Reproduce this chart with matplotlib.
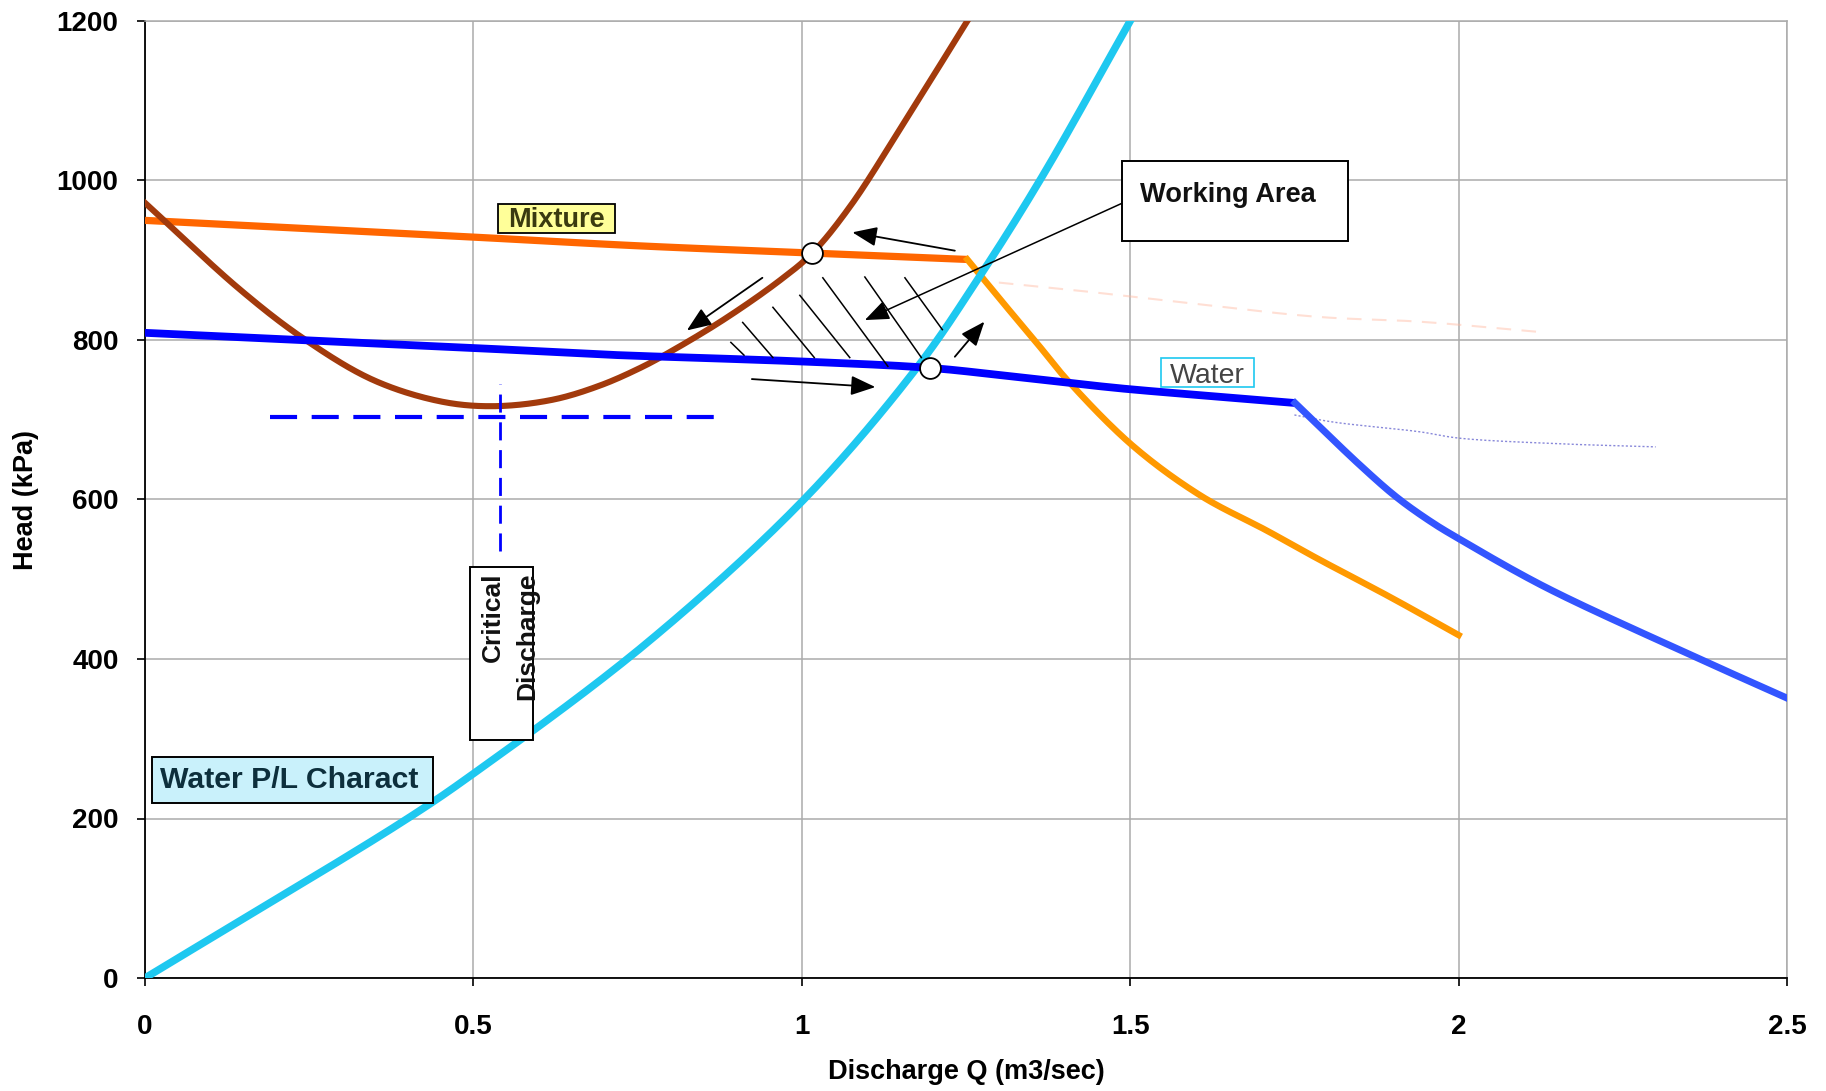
import matplotlib
matplotlib.use("Agg")
import matplotlib.pyplot as plt
from matplotlib.patches import Rectangle
import numpy as np

plt.rcParams['font.family'] = ['Liberation Sans', 'DejaVu Sans']

# ---- data: discharge Q (m3/sec) vs head (kPa) ----
# water pipeline characteristic
q_pipe_water = [0.0, 0.396, 0.503, 0.761, 1.002, 1.175, 1.267, 1.366, 1.5]
h_pipe_water = [0, 198, 258, 418, 599, 765, 875, 1005, 1200]

# mixture pipeline characteristic
q_pipe_mix = [0.0, 0.145, 0.241, 0.347, 0.45, 0.53, 0.62, 0.693, 0.754, 0.795,
              0.88, 0.967, 1.016, 1.074, 1.15, 1.252]
h_pipe_mix = [972, 863, 802, 750, 723, 717, 725, 743, 765, 783,
              825, 875, 909, 968, 1065, 1200]

# pump curve on mixture (knee at 1.252)
q_pump_mix = [0.0, 0.5, 0.754, 1.016, 1.252, 1.302, 1.357, 1.404, 1.503, 1.607,
              1.708, 1.785, 1.895, 2.0]
h_pump_mix = [950, 929, 918, 909, 901, 851, 797, 750, 668, 605,
              561, 526, 478, 430]
knee_mix = 1.252

# pump curve on water (knee at 1.751)
q_pump_water = [0.0, 0.5, 0.693, 0.754, 1.002, 1.195, 1.302, 1.454, 1.503, 1.751,
                1.85, 1.907, 1.96, 2.0, 2.13, 2.343, 2.5]
h_pump_water = [809, 790, 782, 780, 773, 765, 756, 742, 738, 721,
                643, 602, 571, 551, 491, 409, 351]
knee_water = 1.751

# faint continuation traces
q_trace_mix = [1.30, 1.42, 1.55, 1.786, 1.94, 2.124]
h_trace_mix = [872, 862, 850, 829, 823, 810]
q_trace_water = [1.75, 1.81, 1.94, 2.0, 2.15, 2.30]
h_trace_water = [706, 697, 685, 677, 670, 666]

# operating points
q_oper = [1.016, 1.195]
h_oper = [909, 765]

# critical discharge guide lines
crit_q = 0.54
crit_h = 703
crit_h_span = (535, 745)
crit_q_span = (0.19, 0.882)

# hatching of the working area (start, end) pairs
hatch_lines = [
    ((0.892, 797), (0.912, 781)),
    ((0.910, 822), (0.956, 778)),
    ((0.956, 841), (1.019, 778)),
    ((0.997, 856), (1.073, 778)),
    ((1.032, 878), (1.131, 767)),
    ((1.096, 879), (1.182, 778)),
    ((1.157, 878), (1.214, 813)),
]

# direction arrows (tail, head)
flow_arrows = [
    ((1.233, 912), (1.077, 935)),
    ((0.940, 878), (0.825, 812)),
    ((0.924, 751), (1.112, 741)),
    ((1.233, 779), (1.278, 823)),
]

x_ticks = [0, 0.5, 1, 1.5, 2, 2.5]
x_tick_labels = ['0', '0.5', '1', '1.5', '2', '2.5']
y_ticks = [0, 200, 400, 600, 800, 1000, 1200]

# ---- figure ----
W, H = 1826, 1091
fig = plt.figure(figsize=(W / 100, H / 100), dpi=100)
ax = fig.add_axes([145 / W, 1 - 978 / H, (1787 - 145) / W, (978 - 21) / H])
ax.set_xlim(0, 2.5)
ax.set_ylim(0, 1200)

# pixel-per-unit factors, used so the smoothing works in screen proportions
SX = (1787 - 145) / 2.5
SY = (978 - 21) / 1200.0


def smooth_line(x, y, n=30):
    """Centripetal Catmull-Rom curve through the given points (smoothed line)."""
    P = np.column_stack([np.asarray(x, float) * SX, np.asarray(y, float) * SY])
    if len(P) < 3:
        return np.asarray(x, float), np.asarray(y, float)
    P = np.vstack([2 * P[0] - P[1], P, 2 * P[-1] - P[-2]])
    out = []
    for i in range(1, len(P) - 2):
        p0, p1, p2, p3 = P[i - 1], P[i], P[i + 1], P[i + 2]
        t0 = 0.0
        t1 = t0 + np.linalg.norm(p1 - p0) ** 0.5
        t2 = t1 + np.linalg.norm(p2 - p1) ** 0.5
        t3 = t2 + np.linalg.norm(p3 - p2) ** 0.5
        t = np.linspace(t1, t2, n)[:, None]
        A1 = (t1 - t) / (t1 - t0) * p0 + (t - t0) / (t1 - t0) * p1
        A2 = (t2 - t) / (t2 - t1) * p1 + (t - t1) / (t2 - t1) * p2
        A3 = (t3 - t) / (t3 - t2) * p2 + (t - t2) / (t3 - t2) * p3
        B1 = (t2 - t) / (t2 - t0) * A1 + (t - t0) / (t2 - t0) * A2
        B2 = (t3 - t) / (t3 - t1) * A2 + (t - t1) / (t3 - t1) * A3
        C = (t2 - t) / (t2 - t1) * B1 + (t - t1) / (t2 - t1) * B2
        out.append(C if i == 1 else C[1:])
    C = np.vstack(out)
    return C[:, 0] / SX, C[:, 1] / SY


ax.set_xticks(x_ticks)
ax.set_xticklabels(x_tick_labels)
ax.set_yticks(y_ticks)
ax.grid(True, color='#ababab', linewidth=1.1, zorder=0)
ax.set_axisbelow(True)
for side in ('top', 'right'):
    ax.spines[side].set_color('#ababab')
    ax.spines[side].set_linewidth(1.1)
for side in ('left', 'bottom'):
    ax.spines[side].set_color('black')
    ax.spines[side].set_linewidth(1.3)
ax.tick_params(axis='both', direction='out', length=6, width=1.2,
               labelsize=20, colors='black')
ax.tick_params(axis='y', pad=13)
ax.tick_params(axis='x', pad=20)
for lbl in ax.get_xticklabels() + ax.get_yticklabels():
    lbl.set_fontweight('bold')

ax.set_xlabel('Discharge Q (m3/sec)', fontsize=19.5, fontweight='bold', va='center')
ax.xaxis.set_label_coords(0.5, -0.0982)
ax.set_ylabel('Head (kPa)', fontsize=19.5, fontweight='bold', va='center')
ax.yaxis.set_label_coords(-0.0727, 0.5)

# faint traces
ax.plot(*smooth_line(q_trace_mix, h_trace_mix), color='#ffb8a0', lw=1.5,
        ls=(0, (7, 5)), alpha=0.45, zorder=2)
ax.plot(*smooth_line(q_trace_water, h_trace_water), color='#6a6ad0', lw=1.0,
        ls=(0, (1.5, 1.5)), alpha=0.8, zorder=2)

# pump curves: normal range and beyond the knee (sharp corner at the knee)
qm = np.array(q_pump_mix); hm = np.array(h_pump_mix)
ax.plot(*smooth_line(qm[qm <= knee_mix], hm[qm <= knee_mix]), color='#ff6600',
        lw=5.2, solid_capstyle='butt', zorder=3)
ax.plot(*smooth_line(qm[qm >= knee_mix], hm[qm >= knee_mix]), color='#ff9900',
        lw=4.6, zorder=3)

qw = np.array(q_pump_water); hw = np.array(h_pump_water)
ax.plot(*smooth_line(qw[qw <= knee_water], hw[qw <= knee_water]), color='#0000ff',
        lw=5.6, solid_capstyle='butt', zorder=4)
ax.plot(*smooth_line(qw[qw >= knee_water], hw[qw >= knee_water]), color='#3355ff',
        lw=5.0, zorder=4)

# pipeline characteristics
ax.plot(*smooth_line(q_pipe_mix, h_pipe_mix), color='#a23a0c', lw=4.4, zorder=3)
ax.plot(*smooth_line(q_pipe_water, h_pipe_water), color='#1ec8f0', lw=5.4, zorder=3)

# critical discharge guides
ax.plot(crit_q_span, [crit_h, crit_h], color='#0000ff', lw=3.0,
        ls=(0, (6.5, 3.5)), zorder=3)
ax.plot([crit_q, crit_q], crit_h_span, color='#0000ff', lw=2.0,
        ls=(0, (6.5, 3.5)), zorder=3)

# hatching of the working area
for (x0, y0), (x1, y1) in hatch_lines:
    ax.plot([x0, x1], [y0, y1], color='black', lw=1.1, zorder=4)

# flow direction arrows
for tail, head in flow_arrows:
    ax.annotate('', xy=head, xytext=tail,
                arrowprops=dict(arrowstyle='-|>,head_length=0.75,head_width=0.3',
                                color='black', lw=1.3, mutation_scale=20,
                                shrinkA=0, shrinkB=0), zorder=5)

# operating points
ax.plot(q_oper, h_oper, ls='none', marker='o', markersize=15,
        markerfacecolor='white', markeredgecolor='black', markeredgewidth=1.3, zorder=6)

# "Working Area" callout
ax.add_patch(Rectangle((1.488, 924), 1.831 - 1.488, 1024 - 924, facecolor='white',
                       edgecolor='black', lw=1.4, zorder=6))
ax.text(1.515, 982, 'Working Area', fontsize=19.6, fontweight='bold', ha='left',
        va='center', color='#111111', zorder=7)
ax.annotate('', xy=(1.096, 825), xytext=(1.489, 972),
            arrowprops=dict(arrowstyle='-|>,head_length=0.75,head_width=0.3',
                            color='black', lw=1.1, mutation_scale=20,
                            shrinkA=0, shrinkB=0), zorder=5)

# "Mixture" label
ax.add_patch(Rectangle((0.537, 934), 0.715 - 0.537, 971 - 934, facecolor='#ffff99',
                       edgecolor='black', lw=1.3, zorder=6))
ax.text(0.626, 951, 'Mixture', fontsize=19.5, fontweight='bold', ha='center',
        va='center', color='#3a3a10', zorder=7)

# "Water" label
ax.add_patch(Rectangle((1.547, 741), 1.689 - 1.547, 778 - 741, facecolor='none',
                       edgecolor='#1ec8f0', lw=1.2, zorder=6))
ax.text(1.618, 755, 'Water', fontsize=20.5, ha='center', va='center',
        color='#444444', zorder=7)

# "Water P/L Charact" label
ax.add_patch(Rectangle((0.010, 219), 0.439 - 0.010, 277 - 219, facecolor='#c9f1fb',
                       edgecolor='black', lw=1.4, zorder=6))
ax.text(0.023, 248, 'Water P/L Charact', fontsize=21.8, fontweight='bold', ha='left',
        va='center', color='#0d2f3c', zorder=7)

# "Critical Discharge" label, clipped to its box
crit_box = Rectangle((0.495, 299), 0.590 - 0.495, 515 - 299, facecolor='white',
                     edgecolor='black', lw=1.4, zorder=6)
ax.add_patch(crit_box)
t = ax.text(0.511, 508, 'Critical\nDischarge', fontsize=19, fontweight='bold',
            rotation=90, ha='left', va='top', multialignment='right',
            linespacing=1.55, color='#111111', zorder=7)
t.set_clip_path(crit_box)

fig.savefig('out.png', dpi=100)
